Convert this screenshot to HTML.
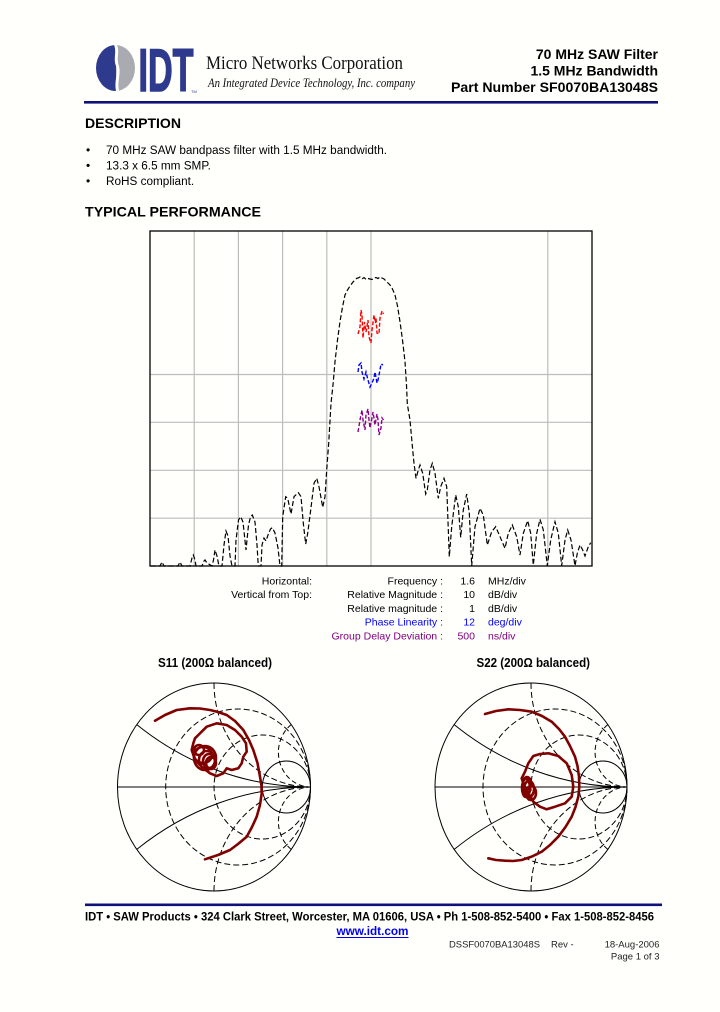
<!DOCTYPE html>
<html><head><meta charset="utf-8"><style>
html,body{margin:0;padding:0;background:#fffffb;width:720px;height:1012px;overflow:hidden;}
svg{display:block;}
text{font-family:"Liberation Sans",Arial,sans-serif;}
</style></head><body>
<svg width="720" height="1012" viewBox="0 0 720 1012" xmlns="http://www.w3.org/2000/svg">
<rect x="0" y="0" width="720" height="1012" fill="#fffffb"/>
<defs>
<clipPath id="logoclip"><ellipse cx="115.5" cy="68" rx="19.5" ry="23"/></clipPath>
</defs>

<!-- Logo -->
<g clip-path="url(#logoclip)">
<rect x="96" y="45" width="20" height="46" fill="#2e3a8e"/>
<rect x="116" y="45" width="20" height="46" fill="#a9abb0"/>
<path d="M114,45 C117,52 113,58 116,66 C118,74 114,82 116,91 L119,91 C117,82 121,74 119,66 C116,58 120,52 117,45 Z" fill="#fffffb"/>
</g>
<text x="138.5" y="91" font-size="60" font-weight="bold" fill="#2e3a8e" stroke="#2e3a8e" stroke-width="1.6" textLength="55" lengthAdjust="spacingAndGlyphs">IDT</text>
<text x="191" y="93" font-size="4" fill="#2e3a8e">TM</text>
<text x="206" y="69" font-size="19" fill="#111" textLength="197" lengthAdjust="spacingAndGlyphs" style="font-family:'Liberation Serif',serif">Micro Networks Corporation</text>
<text x="208" y="87" font-size="12.5" font-style="italic" fill="#111" textLength="207" lengthAdjust="spacingAndGlyphs" style="font-family:'Liberation Serif',serif">An Integrated Device Technology, Inc. company</text>

<text x="658" y="59" font-size="14" font-weight="bold" text-anchor="end" fill="#000">70 MHz SAW Filter</text>
<text x="658" y="75.5" font-size="14" font-weight="bold" text-anchor="end" fill="#000">1.5 MHz Bandwidth</text>
<text x="451" y="92" font-size="14" font-weight="bold" fill="#000" textLength="207" lengthAdjust="spacingAndGlyphs">Part Number SF0070BA13048S</text>
<rect x="84" y="101" width="574" height="2.6" fill="#10107a"/>

<!-- Description -->
<text x="85" y="128" font-size="14" font-weight="bold" fill="#000" textLength="96" lengthAdjust="spacingAndGlyphs">DESCRIPTION</text>
<text x="86" y="154" font-size="12" fill="#000">•</text>
<text x="106" y="154" font-size="11.75" fill="#000" textLength="281" lengthAdjust="spacingAndGlyphs">70 MHz SAW bandpass filter with 1.5 MHz bandwidth.</text>
<text x="86" y="169.5" font-size="12" fill="#000">•</text>
<text x="106" y="169.5" font-size="11.75" fill="#000">13.3 x 6.5 mm SMP.</text>
<text x="86" y="185" font-size="12" fill="#000">•</text>
<text x="106" y="185" font-size="11.75" fill="#000">RoHS compliant.</text>
<text x="85" y="216.5" font-size="14" font-weight="bold" fill="#000" textLength="176" lengthAdjust="spacingAndGlyphs">TYPICAL PERFORMANCE</text>

<!-- Chart -->
<g stroke="#bdbdbd" stroke-width="1.2">
<line x1="194.2" y1="231" x2="194.2" y2="566"/>
<line x1="238.4" y1="231" x2="238.4" y2="566"/>
<line x1="282.6" y1="231" x2="282.6" y2="566"/>
<line x1="326.8" y1="231" x2="326.8" y2="566"/>
<line x1="371" y1="231" x2="371" y2="566"/>
<line x1="547.8" y1="231" x2="547.8" y2="566"/>
<line x1="150" y1="374.5" x2="592" y2="374.5"/>
<line x1="150" y1="422.3" x2="592" y2="422.3"/>
<line x1="150" y1="470.3" x2="592" y2="470.3"/>
<line x1="150" y1="518.2" x2="592" y2="518.2"/>
</g>
<rect x="150" y="231" width="442" height="335" fill="none" stroke="#000" stroke-width="1.3"/>

<polyline fill="none" stroke="#000" stroke-width="1.2" stroke-dasharray="5 2.5" points="
151,566 160,566 162,562 164,566 178,566 180,562 182,566 190,566 192,558 193.3,555 195,560 196,566 202,566 204,561 205,560 207,563 212,566 213.5,560 215,550 217,556 219,566 222,566 224,545 226,531 228,536 230,556 232,566 235,566 236,540 238.5,520 240.7,516.7 243,522 246,550 248.5,525 250.5,517 252.3,515 255,522 257,545 258.3,566 261,566 262,545 264,538 266,541 268,535 270.5,529 272.3,527.7 275,533 278,548 280,566 281.7,566 282.7,516.7 285.7,496.7 287.7,498.3 291,514 294,496.7 298.3,492.7 301,496.7 303.3,523.3 305.7,544 307.7,533.3 310.7,510 314,483.3 316.7,478.3 319,486.7 322.7,507.3 325,496.7 326.7,470 328.7,443.3 331,403.3 333,385 335,361.7 337.5,340 340,321.7 342.5,307 345,295 347.5,290 350,286 353,282 356.7,278.3 358,278 360,277 362,279 364,277.5 366,279.5 368,278.5 370,279 372,279.5 374,278 376,277.5 378,278.5 380,277 382,278 384,279 386,281 388,283 390,285 392.5,289 395,295 397.5,306 400,321.7 402.5,340 405,361.7 406.5,385 407.3,404 410,420 412.7,450 414,463.3 416,478.3 418.3,470 420,465 422.7,473.3 425.7,494 427.3,490 430,470 432.3,463.3 435,473.3 438.3,498.3 440.7,486.7 444,478.3 446.7,486.7 449.3,556.7 451.7,526.7 455.7,495 458.3,506.7 460.7,537.3 463.3,510 466.7,494 469.3,513.3 471.7,565.7 475,526.7 480,508.3 483.3,515 487.3,545 491.7,531.7 495.7,526.7 500,536.7 505,548.3 508.3,533.3 512.3,525 516.7,536.7 520,555 523.3,533.3 527.7,520.7 530.7,533.3 533.3,565 536.7,533.3 540,519.3 543.3,530 547.3,565.7 550.7,540 555,521.7 558.3,533.3 561.7,565.7 565,540 567.7,530 571,540 575,565.7 577.3,553.3 580,545 582.7,550 585,556 588.3,546.7 590.7,542.7"/>

<polyline fill="none" stroke="#ff0000" stroke-width="1.4" stroke-dasharray="4 2" points="358,334 360,327 361,310 362,315 363,338 364.5,322 366,332 368,320 369,337 371,343 372,330 374,315 375.5,323 376,318 377,333 379,334 380,318 382,311 383.5,314"/>
<polyline fill="none" stroke="#0000ff" stroke-width="1.4" stroke-dasharray="4 2" points="358,372 359,365 361,363 362,372 364,379 366,372 368,380 370,387 372,383 374,378 375,372 377,383 378,380 380,370 381,364 383,365"/>
<polyline fill="none" stroke="#8b008b" stroke-width="1.4" stroke-dasharray="4 2" points="358,432 360,420 362,410 363,420 365,430 366,415 368,409 369,420 370,428 372,418 373,412 375,425 377,414 378,420 379,435 381,428 382,418 383.5,420"/>

<!-- Legend -->
<g font-size="10.5" fill="#000">
<text x="312" y="584.5" text-anchor="end">Horizontal:</text>
<text x="312" y="598.2" text-anchor="end">Vertical from Top:</text>
<text x="443" y="584.5" text-anchor="end">Frequency :</text>
<text x="475" y="584.5" text-anchor="end">1.6</text>
<text x="488" y="584.5">MHz/div</text>
<text x="443" y="598.2" text-anchor="end">Relative Magnitude :</text>
<text x="475" y="598.2" text-anchor="end">10</text>
<text x="488" y="598.2">dB/div</text>
<text x="443" y="611.9" text-anchor="end">Relative magnitude :</text>
<text x="475" y="611.9" text-anchor="end">1</text>
<text x="488" y="611.9">dB/div</text>
</g>
<g font-size="10.5" fill="#0000ff">
<text x="443" y="625.6" text-anchor="end">Phase Linearity :</text>
<text x="475" y="625.6" text-anchor="end">12</text>
<text x="488" y="625.6">deg/div</text>
</g>
<g font-size="10.5" fill="#800080">
<text x="443" y="639.3" text-anchor="end">Group Delay Deviation :</text>
<text x="475" y="639.3" text-anchor="end">500</text>
<text x="488" y="639.3">ns/div</text>
</g>

<!-- Smith titles -->
<text x="158" y="667" font-size="12.5" font-weight="bold" fill="#000" textLength="114" lengthAdjust="spacingAndGlyphs">S11 (200Ω balanced)</text>
<text x="476.5" y="667" font-size="12.5" font-weight="bold" fill="#000" textLength="113.5" lengthAdjust="spacingAndGlyphs">S22 (200Ω balanced)</text>

<!-- Smith chart left -->
<g fill="none" stroke="#000" stroke-width="1">
<line x1="117.5" y1="787" x2="310.5" y2="787"/>
<ellipse cx="238.1" cy="787" rx="72.4" ry="78" stroke-dasharray="6 3"/>
<ellipse cx="262.3" cy="787" rx="48.25" ry="52" stroke-dasharray="6 3"/>
<ellipse cx="286.4" cy="787" rx="24.1" ry="26"/>
<path d="M136.8,724.6 A289.5,312 0 0 0 310.5,787"/>
<path d="M136.8,849.4 A289.5,312 0 0 1 310.5,787"/>
<path d="M214,683 A96.5,104 0 0 0 310.5,787" stroke-dasharray="6 3"/>
<path d="M214,891 A96.5,104 0 0 1 310.5,787" stroke-dasharray="6 3"/>
<path d="M291.2,724.6 A32.2,34.7 0 0 0 310.5,787" stroke-dasharray="5 3"/>
<path d="M291.2,849.4 A32.2,34.7 0 0 1 310.5,787" stroke-dasharray="5 3"/>
<ellipse cx="214" cy="787" rx="96.5" ry="104"/>
</g>

<g fill="none" stroke="#800000" stroke-width="2.6" stroke-linejoin="round" stroke-linecap="round">
<polyline points="155,720.7 165,715 176.7,710 190,708.3 200,708.5 210,710 218,712 226.7,715 235,721 243.3,730 249,740 253.3,750 257.5,763 260,776.7 261.5,786 261.7,793.3 260,805 256.7,816.7 252,827 246.7,836.7 238,844 230,850 218,855 205,859.3"/>
<polyline points="195,738.3 198.3,735 206.7,726.7 216.7,723.3 226.7,725 235,730 241.7,736.7 246,743.3 246.7,751.7 243.3,756.7 241.7,763.3 238.3,768.3 231.7,770 226.7,768.3 223.3,773.3 216.7,776 210,773.3 201.7,766.7 195,760 191.7,750 193.3,743.3 195,738.3"/>
<ellipse cx="205" cy="758" rx="11" ry="12"/>
<ellipse cx="207" cy="760" rx="8" ry="9"/>
<ellipse cx="209" cy="761" rx="6" ry="7"/>
<ellipse cx="203" cy="755" rx="9" ry="8"/>
<ellipse cx="211" cy="763" rx="5" ry="6"/>
<ellipse cx="199" cy="750" rx="5" ry="5"/>
</g>

<!-- Smith chart right -->
<g fill="none" stroke="#000" stroke-width="1">
<line x1="435" y1="787" x2="627" y2="787"/>
<ellipse cx="555" cy="787" rx="72" ry="78" stroke-dasharray="6 3"/>
<ellipse cx="579" cy="787" rx="48" ry="52" stroke-dasharray="6 3"/>
<ellipse cx="603" cy="787" rx="24" ry="26"/>
<path d="M454.2,724.6 A288,312 0 0 0 627,787"/>
<path d="M454.2,849.4 A288,312 0 0 1 627,787"/>
<path d="M531,683 A96,104 0 0 0 627,787" stroke-dasharray="6 3"/>
<path d="M531,891 A96,104 0 0 1 627,787" stroke-dasharray="6 3"/>
<path d="M607.8,724.6 A32,34.7 0 0 0 627,787" stroke-dasharray="5 3"/>
<path d="M607.8,849.4 A32,34.7 0 0 1 627,787" stroke-dasharray="5 3"/>
<ellipse cx="531" cy="787" rx="96" ry="104"/>
</g>

<g fill="none" stroke="#800000" stroke-width="2.6" stroke-linejoin="round" stroke-linecap="round">
<polyline points="485,714 496,711 508.3,709.3 520,710 531.7,711.7 542,716 551.7,721.7 559,729 565,736.7 570,746 575,756.7 577.5,766 579,776.7 579.3,787 578.3,796.7 575.5,807 571.7,816.7 565.5,827 558.3,836.7 550,845 541.7,851.7 532,856.5 521.7,860 513,861 505,860.7 496,860 488.3,858.3"/>
<polyline points="521.7,778.3 525,771.7 528.3,763.3 533.3,756 540,754 548.3,753.3 558.3,756 566.7,763.3 571.7,775 573.3,786.7 571.7,796.7 565,803.3 555,806.7 546.7,809.3 540,806.7 533.3,801.7 528.3,793.3 523.3,783.3 521.7,778.3"/>
<ellipse cx="527" cy="783" rx="4" ry="6"/>
<ellipse cx="529" cy="789" rx="5" ry="8"/>
<ellipse cx="531" cy="793" rx="5" ry="7"/>
<ellipse cx="526" cy="788" rx="4" ry="9"/>
</g>

<!-- Footer -->
<rect x="85" y="903.5" width="577" height="2.6" fill="#10107a"/>
<text x="85" y="920.5" font-size="12" font-weight="bold" fill="#000" textLength="569" lengthAdjust="spacingAndGlyphs">IDT  •  SAW Products  •  324 Clark Street, Worcester, MA 01606, USA  •  Ph 1-508-852-5400  •  Fax 1-508-852-8456</text>
<text x="336.5" y="935" font-size="12" font-weight="bold" fill="#0000ee" textLength="72" lengthAdjust="spacingAndGlyphs">www.idt.com</text>
<rect x="336.5" y="937" width="72" height="1" fill="#0000ee"/>
<text x="449" y="947.5" font-size="9.5" fill="#222" textLength="91" lengthAdjust="spacingAndGlyphs">DSSF0070BA13048S</text>
<text x="551" y="947.5" font-size="9.5" fill="#222">Rev -</text>
<text x="659.5" y="947.5" font-size="9.5" fill="#222" text-anchor="end">18-Aug-2006</text>
<text x="659.5" y="959.5" font-size="9.5" fill="#222" text-anchor="end">Page 1 of 3</text>
</svg>
</body></html>
